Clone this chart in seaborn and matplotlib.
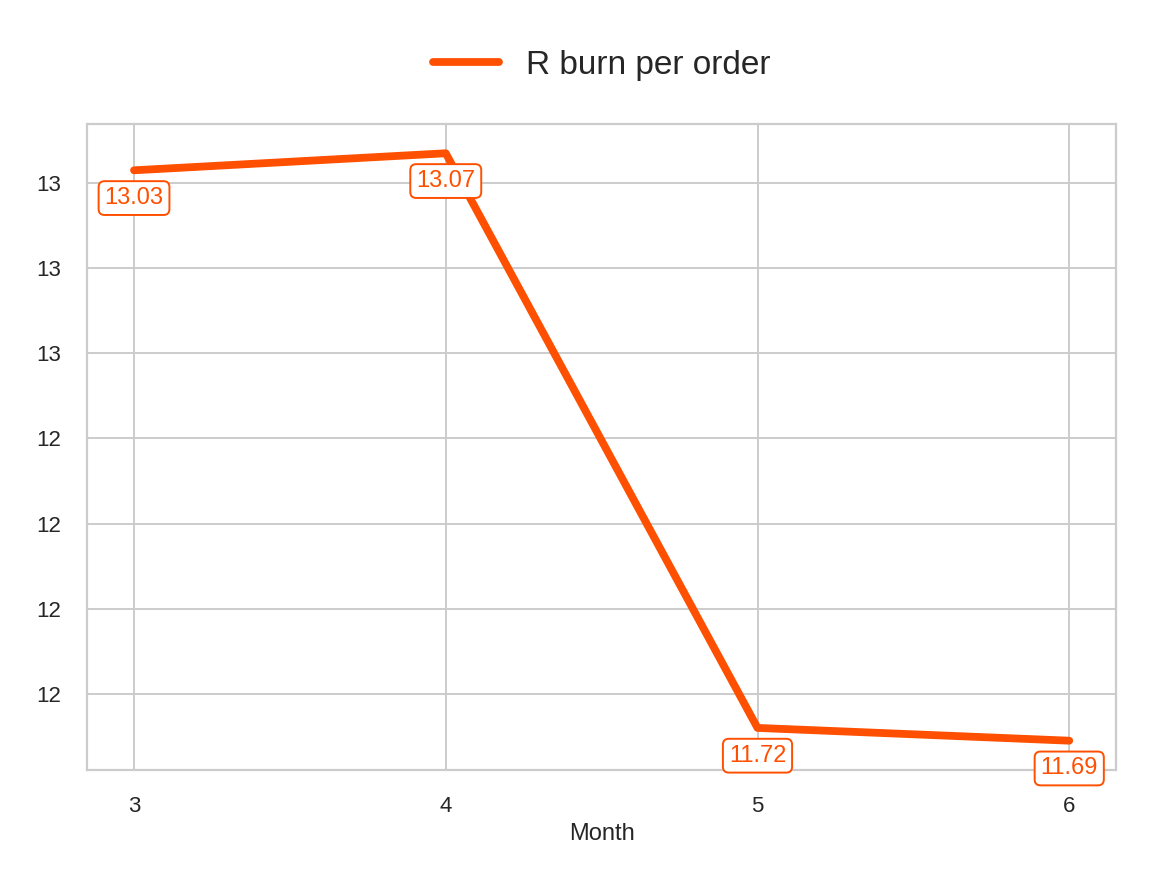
import matplotlib
matplotlib.use("Agg")
import matplotlib.pyplot as plt
import matplotlib.ticker as mticker
import pandas as pd
import seaborn as sns

months = [3, 4, 5, 6]
burn = [13.03, 13.07, 11.72, 11.69]
series_name = "R burn per order"
color = "#FF4F00"

df = pd.DataFrame({"Month": months, series_name: burn})

sns.set_theme(style="whitegrid")
plt.rcParams["font.family"] = ["Liberation Sans", "DejaVu Sans"]
plt.rcParams["grid.linewidth"] = 0.7
plt.rcParams["axes.linewidth"] = 0.8
fig, ax = plt.subplots(figsize=(5.76, 4.405), dpi=200)
sns.lineplot(data=df, x="Month", y=series_name, color=color, linewidth=2.8,
             label=series_name, ax=ax)

for x, y in zip(months, burn):
    ax.annotate(f"{y:.2f}", (x, y), xytext=(0, -10), textcoords="offset points",
                ha="center", va="center", fontsize=8.5, color=color,
                bbox=dict(boxstyle="round,pad=0.25", fc="white", ec=color, lw=0.7))

ax.set_xticks(months)
ax.yaxis.set_major_locator(mticker.MultipleLocator(0.2))
ax.yaxis.set_major_formatter(mticker.FormatStrFormatter("%.0f"))
ax.tick_params(labelsize=8)
ax.set_xlabel("Month", fontsize=8.5, labelpad=2)
ax.set_ylabel("")
ax.legend(loc="lower center", bbox_to_anchor=(0.5, 1.02), frameon=False, fontsize=12)
fig.tight_layout()
fig.savefig("out.png", dpi=200)
